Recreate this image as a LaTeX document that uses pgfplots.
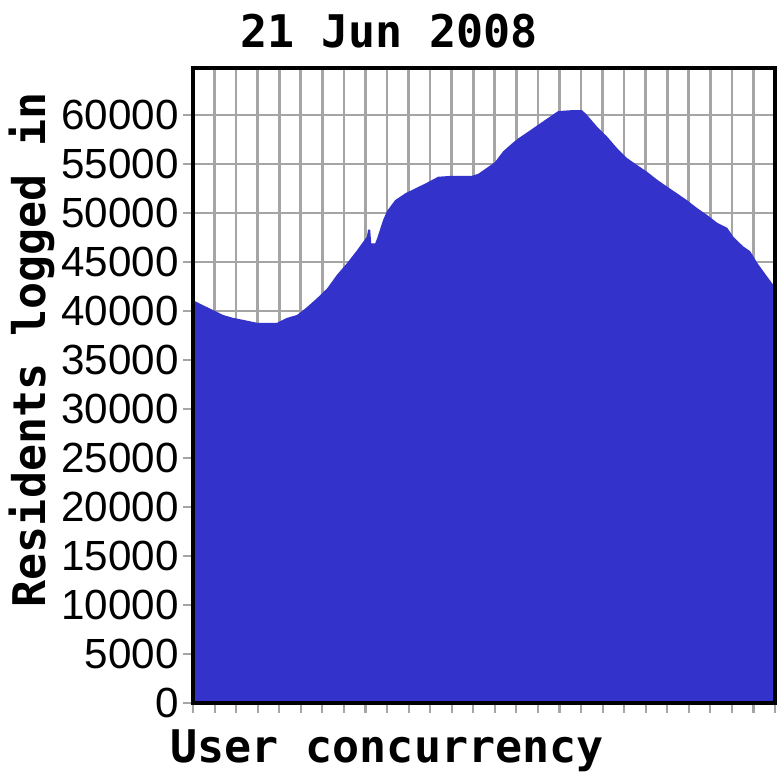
\documentclass[border=0pt]{standalone}
\usepackage{fontspec}
\setmainfont{Liberation Sans}
\newfontfamily\monofont{DejaVu Sans Mono}
\usepackage{pgfplots}
\pgfplotsset{compat=1.18}
\definecolor{areablue}{RGB}{51,51,204}
\definecolor{gridgray}{RGB}{165,165,165}
\newcommand{\labfont}{\monofont\bfseries\fontsize{12.8}{13}\selectfont}

\begin{document}
\begin{tikzpicture}
\begin{axis}[
    scale only axis,
    width=58.2mm, height=63.5mm,
    xmin=0, xmax=27,
    ymin=0, ymax=64800,
    xtick={0,1,...,27}, xticklabels={},
    ytick={0,5000,...,60000},
    scaled y ticks=false,
    yticklabel style={
        /pgf/number format/fixed,
        /pgf/number format/1000 sep={},
        /pgf/number format/assume math mode=true,
        font=\fontsize{12}{12}\selectfont,
        inner sep=1pt},
    grid=major,
    grid style={gridgray, line width=0.75pt},
    tick pos=left,
    tick align=outside,
    major tick length=1mm,
    tick style={gridgray, line width=0.6pt},
    axis line style={line width=0.9pt},
]

\addplot[fill=areablue, draw=none] coordinates {
    (0,41100)(0.46,40600)(0.93,40100)(1.39,39600)(1.86,39300)(2.32,39100)
    (2.97,38800)(3.90,38800)(4.36,39300)(4.83,39600)(5.29,40400)(5.75,41300)
    (6.22,42300)(6.68,43700)(7.15,44900)(7.61,46200)(8.07,47600)(8.12,48300)
    (8.22,48300)(8.27,46900)(8.45,46900)(8.54,47400)(8.82,49300)(9.00,50200)
    (9.37,51300)(9.84,52000)
    (10.30,52500)(10.77,53000)(11.37,53700)(12.02,53800)(12.95,53800)(13.23,54000)
    (13.69,54700)(14.01,55200)(14.39,56300)(14.80,57100)(15.08,57600)(15.55,58300)
    (16.01,59000)(16.47,59700)(16.94,60400)(17.59,60500)(18.05,60500)(18.28,60000)
    (18.75,58800)(19.21,57800)(19.68,56600)(20.14,55600)(20.60,54900)(21.07,54200)
    (21.53,53400)(21.99,52700)(22.46,52000)(22.92,51300)(23.39,50500)(23.85,49800)
    (24.32,49000)(24.78,48500)(25.06,47600)(25.52,46600)(25.85,46100)(26.18,44900)
    (26.64,43500)(26.91,42700)(27,42500)
} \closedcycle;

% frame drawn again over the fill
\draw[line width=0.9pt] (rel axis cs:0,0) rectangle (rel axis cs:1,1);
\end{axis}

\node[anchor=base, font=\labfont] at (19.6mm,65.5mm) {21 Jun 2008};
\node[anchor=base, font=\labfont, rotate=90] at (-14.7mm,35.3mm) {Residents logged in};
\node[anchor=base, font=\labfont] at (19.4mm,-5.9mm) {User concurrency};

\pgfresetboundingbox
\useasboundingbox (-19.3mm,-7.7mm) rectangle (58.7mm,70.3mm);
\end{tikzpicture}
\end{document}
